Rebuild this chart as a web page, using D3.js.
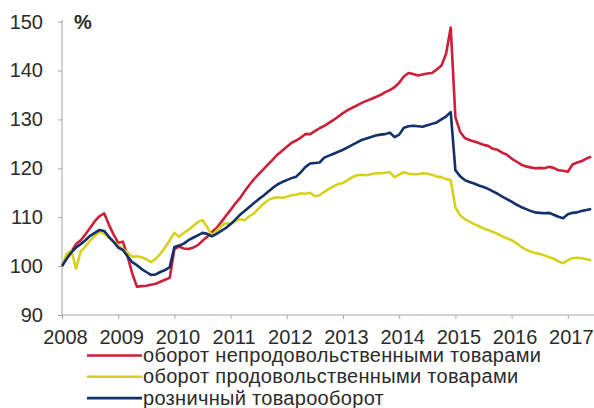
<!DOCTYPE html>
<html>
<head>
<meta charset="utf-8">
<script src="https://cdn.jsdelivr.net/npm/d3@7"></script>
<style>
  html, body { margin: 0; padding: 0; background: #fff; }
  svg { display: block; font-family: "Liberation Sans", Arial, sans-serif; }
</style>
</head>
<body>
<svg id="chart" width="594" height="408"></svg>
<script>
// Monthly indices, January 2008 = 100, from Jan 2008 to Jun 2017
const startYear = 2008;

const nonFood = [
  100, 101.8, 103, 104.5, 105.3, 106.5, 107.8, 109.2, 110.2, 110.8, 108.5, 106.5,
  104.8, 105, 102, 98.5, 95.8, 95.9, 96, 96.2, 96.4, 96.8, 97.2, 97.6,
  103.5, 104, 103.6, 103.5, 103.8, 104.3, 105.2, 106, 107, 107.8, 109, 110.3,
  111.5, 112.8, 113.9, 115.3, 116.6, 117.8, 118.8, 119.8, 120.8, 121.8, 122.8, 123.6,
  124.4, 125.2, 125.7, 126.3, 127, 127, 127.6, 128.2, 128.7, 129.3, 129.9, 130.6,
  131.3, 131.9, 132.4, 132.9, 133.4, 133.8, 134.2, 134.6, 135, 135.6, 136, 136.6,
  137.5, 138.8, 139.5, 139.3, 139, 139.2, 139.4, 139.5, 140.2, 141, 143.4, 148.8,
  130.5, 127.5, 126.2, 125.8, 125.5, 125.2, 124.8, 124.6, 124, 123.8, 123.2, 122.8,
  122, 121.4, 120.8, 120.4, 120.2, 120, 120.1, 120, 120.3, 120.1, 119.6, 119.5,
  119.3, 120.8, 121.2, 121.5, 122, 122.4
];

const food = [
  100, 102.5, 103.2, 99.5, 103, 104, 105.2, 106.2, 107, 106.6, 105.8, 105,
  104.3, 103.5, 102.8, 101.9, 102, 101.8, 101.4, 100.8, 101.5, 102.5, 103.8, 105.3,
  106.8, 106, 106.8, 107.4, 108.2, 109, 109.4, 108, 106.2, 107.2, 108.2, 108.8,
  108.6, 109.2, 109.6, 109.4, 110.2, 110.8, 111.8, 112.7, 113.5, 113.9, 114.1, 114,
  114.2, 114.5, 114.6, 114.9, 114.8, 115, 114.3, 114.5, 115.2, 115.8, 116.3, 116.8,
  117, 117.6, 118.2, 118.6, 118.7, 118.6, 118.8, 119, 119, 119.1, 119.2, 118.2,
  118.7, 119.2, 118.9, 118.8, 118.8, 119, 118.9, 118.7, 118.3, 118.2, 117.8, 117.6,
  112, 110.4, 109.6, 109.1, 108.6, 108.2, 107.7, 107.4, 107, 106.6, 106.1, 105.7,
  105.3, 104.7, 104, 103.4, 103, 102.7, 102.5, 102.2, 101.8, 101.5, 101, 100.6,
  101.2, 101.6, 101.7, 101.6, 101.4, 101.2
];

const retail = [
  100, 101.5, 102.8, 103.8, 104.5, 105.3, 106.2, 106.8, 107.4, 107.2, 106, 105,
  103.8, 103.3, 102, 100.8, 100.2, 99.4, 98.8, 98.2, 98.3, 98.8, 99.2, 99.8,
  103.9, 104.2, 104.6, 105.3, 105.8, 106.3, 106.8, 106.6, 106.1, 106.6, 107.2, 107.8,
  108.6, 109.5, 110.5, 111.3, 112.1, 112.9, 113.7, 114.4, 115.2, 116, 116.7, 117.2,
  117.6, 118, 118.3, 119.2, 120.3, 121, 121.1, 121.2, 122.2, 122.6, 123, 123.4,
  123.8, 124.3, 124.8, 125.3, 125.8, 126.1, 126.4, 126.7, 126.9, 127, 127.3, 126.4,
  126.9, 128.3, 128.6, 128.7, 128.6, 128.5, 128.8, 129.1, 129.4, 130, 130.6, 131.5,
  119.6, 118.4, 117.6, 117.2, 116.9, 116.5, 116.2, 115.8, 115.3, 114.8, 114.2, 113.7,
  113.2, 112.6, 112.1, 111.7, 111.3, 111, 110.9, 110.8, 110.9, 110.5, 110.1, 109.8,
  110.6, 110.9, 111, 111.3, 111.5, 111.7
];

const yearTicks = [2008, 2009, 2010, 2011, 2012, 2013, 2014, 2015, 2016, 2017];
const valueTicks = [90, 100, 110, 120, 130, 140, 150];

const seriesNames = [
  "оборот непродовольственными товарами",
  "оборот продовольственными товарами",
  "розничный товарооборот"
];
const seriesColors = ["#cc1f3a", "#d6d21c", "#12306a"];
const seriesValues = [nonFood, food, retail];

const svg = d3.select("#chart");
const textColor = "#2b2b2b";
const axisColor = "#a6a6a6";
const fontSize = "20px";

const x = d3.scaleLinear().domain([2008, 2018]).range([62, 624]);
const y = d3.scaleLinear().domain([90, 150]).range([315, 21.7]);

// Y axis
const yAxis = svg.append("g").attr("transform", "translate(62,0)")
  .call(d3.axisLeft(y).tickValues(valueTicks).tickSize(4).tickPadding(15));
yAxis.select(".domain").attr("stroke", axisColor).attr("d", `M0,${y(150) - 2}V${y(90)}`);
yAxis.selectAll(".tick line").attr("stroke", axisColor);
yAxis.selectAll(".tick text")
  .attr("fill", textColor).style("font-size", fontSize);

// X axis
const xAxis = svg.append("g").attr("transform", `translate(0,${y(90)})`)
  .call(d3.axisBottom(x).tickValues(yearTicks).tickFormat(d3.format("d"))
    .tickSize(4).tickPadding(11));
xAxis.select(".domain").attr("stroke", axisColor).attr("d", `M62,0H594`);
xAxis.selectAll(".tick line").attr("stroke", axisColor);
xAxis.selectAll(".tick text")
  .attr("fill", textColor).attr("dx", 3).style("font-size", fontSize);

// Unit label
svg.append("text").attr("x", 74).attr("y", 28.5)
  .attr("fill", textColor).style("font-size", fontSize).style("font-weight", "bold")
  .text("%");

// Lines
const line = d3.line()
  .x((d, i) => x(startYear + i / 12))
  .y(d => y(d));

seriesValues.forEach((vals, k) => {
  svg.append("path")
    .datum(vals)
    .attr("fill", "none")
    .attr("stroke", seriesColors[k])
    .attr("stroke-width", 2.6)
    .attr("stroke-linejoin", "round")
    .attr("d", line);
});

// Legend
const legend = svg.append("g");
seriesNames.forEach((name, k) => {
  const ly = 355.5 + k * 21.3;
  legend.append("line")
    .attr("x1", 87).attr("x2", 142).attr("y1", ly).attr("y2", ly)
    .attr("stroke", seriesColors[k]).attr("stroke-width", 2.6);
  legend.append("text")
    .attr("x", 143).attr("y", ly + 6.5)
    .attr("fill", textColor).style("font-size", fontSize)
    .style("letter-spacing", "0.3px")
    .text(name);
});
</script>
</body>
</html>
